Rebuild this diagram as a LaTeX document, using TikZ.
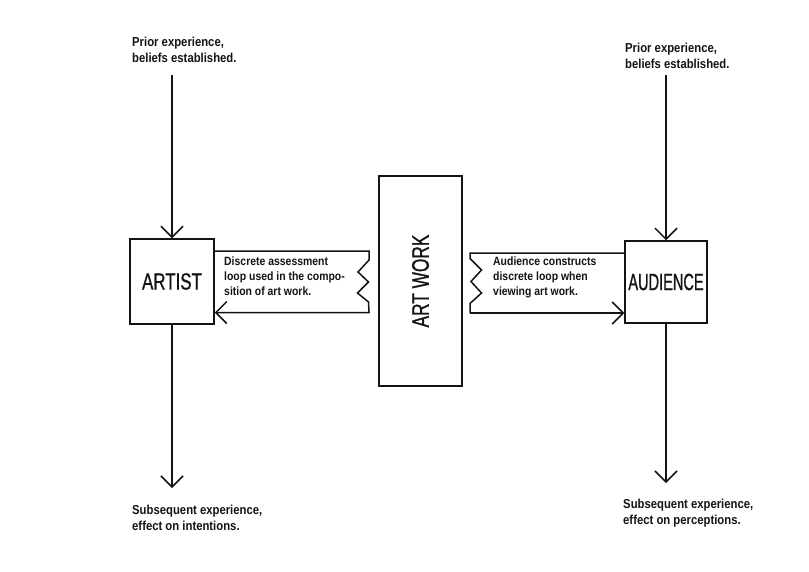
\documentclass[tikz,border=0pt]{standalone}
\usepackage{fontspec}
\setmainfont{Liberation Sans}
\newfontfamily\notefont[FakeStretch=0.87]{Liberation Sans}
\newfontfamily\boxfont[FakeStretch=0.72, FakeBold=0.8]{Liberation Sans}
\newfontfamily\narrowfont[FakeStretch=0.62, FakeBold=0.8]{Liberation Sans}
\definecolor{inkblack}{RGB}{20, 20, 20}
\usetikzlibrary{arrows.meta, positioning}

\begin{document}
\begin{tikzpicture}[x=1pt, y=1pt,
    every node/.style={text=inkblack},
    blockbox/.style={draw=inkblack, line width=1.5pt, inner sep=0pt, font=\boxfont\fontsize{23.5}{26}\selectfont},
    note/.style={inner sep=0pt, align=left, anchor=north west, font=\notefont\bfseries\fontsize{13}{15.5}\selectfont},
    loopnote/.style={inner sep=0pt, align=left, anchor=north west, font=\notefont\bfseries\fontsize{12}{15}\selectfont},
    wire/.style={draw=inkblack, line width=1.5pt},
    flow/.style={wire, -{Straight Barb[length=11pt, width=22pt, line width=1.5pt]}}]
  \useasboundingbox (0,0) rectangle (809,-571);
  \fill[white] (0,0) rectangle (809,-571);

  % Boxes
  \node[blockbox, minimum width=84pt, minimum height=85pt] (artist) at (172,-281.5) {ARTIST};
  \node[blockbox, minimum width=83pt, minimum height=210pt] (artwork) at (420.5,-281) {};
  \node[rotate=90, inner sep=0pt, font=\boxfont\fontsize{24}{26}\selectfont] (artworklabel) at (artwork.center) {ART WORK};
  \node[blockbox, minimum width=82pt, minimum height=82pt, font=\narrowfont\fontsize{23.5}{26}\selectfont] (audience) at (666,-282) {AUDIENCE};

  % Texts above and below
  \node[note] (priorA) at (132,-37) {Prior experience,\\beliefs established.};
  \node[note] (priorB) at (625,-43) {Prior experience,\\beliefs established.};
  \node[note] (afterA) at (132,-505) {Subsequent experience,\\effect on intentions.};
  \node[note] (afterB) at (623,-499) {Subsequent experience,\\effect on perceptions.};

  % In and out of the artist and the audience
  \coordinate (artistTop) at (172,-75);
  \coordinate (artistEnd) at (172,-488);
  \coordinate (audienceTop) at (666,-75);
  \coordinate (audienceEnd) at (666,-483);
  \draw[flow] (artistTop) -- (artist.north);
  \draw[flow] (artist.south) -- (artistEnd);
  \draw[flow] (audienceTop) -- (audience.north);
  \draw[flow] (audience.south) -- (audienceEnd);

  % Loop of the artist
  \draw[flow, line join=miter] (artist.east |- 0,-251) -- (369,-251) -- (369,-260) -- (358,-272) -- (368.5,-282)
    -- (357.5,-293) -- (368.5,-302) -- (369,-312.5) -- (artist.east |- 0,-312.5);
  \node[loopnote] (artistloop) at (224,-257) {Discrete assessment\\loop used in the compo-\\sition of art work.};

  % Loop of the audience
  \draw[wire, line join=miter] (audience.west |- 0,-253) -- (470,-253) -- (470,-258.5) -- (481.5,-270) -- (471,-281.5)
    -- (481.5,-293) -- (470,-303.5) -- (470,-313);
  \draw[flow] (470,-313) -- (audience.west |- 0,-313);
  \node[loopnote] (audienceloop) at (493,-257) {Audience constructs\\discrete loop when\\viewing art work.};
\end{tikzpicture}
\end{document}
